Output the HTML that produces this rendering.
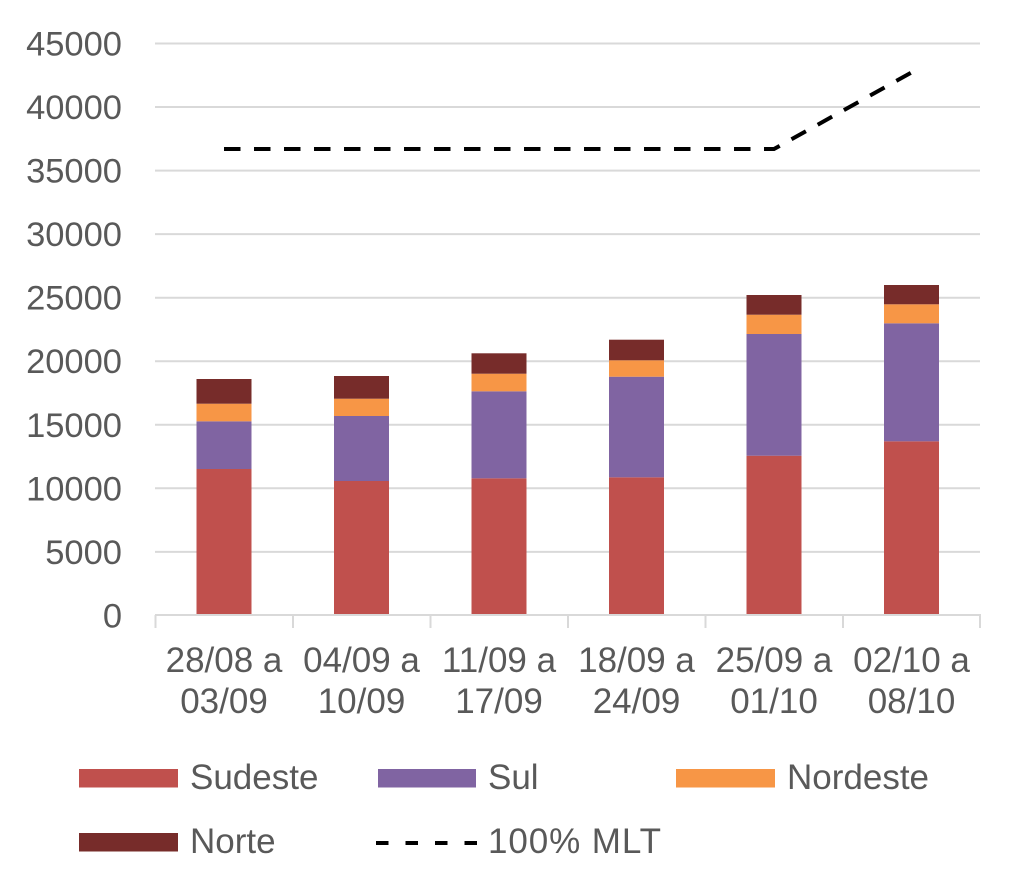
<!DOCTYPE html>
<html>
<head>
<meta charset="utf-8">
<style>
html,body{margin:0;padding:0;background:#fff;}
svg{display:block;}
text{font-family:"Liberation Sans",Arial,sans-serif;fill:#595959;}
</style>
</head>
<body>
<svg width="1024" height="892" viewBox="0 0 1024 892" xmlns="http://www.w3.org/2000/svg">
  <!-- gridlines -->
  <g stroke="#d9d9d9" stroke-width="2">
    <line x1="155" y1="43.5" x2="980" y2="43.5"/>
    <line x1="155" y1="107" x2="980" y2="107"/>
    <line x1="155" y1="170.6" x2="980" y2="170.6"/>
    <line x1="155" y1="234.1" x2="980" y2="234.1"/>
    <line x1="155" y1="297.7" x2="980" y2="297.7"/>
    <line x1="155" y1="361.2" x2="980" y2="361.2"/>
    <line x1="155" y1="424.8" x2="980" y2="424.8"/>
    <line x1="155" y1="488.3" x2="980" y2="488.3"/>
    <line x1="155" y1="551.9" x2="980" y2="551.9"/>
  </g>
  <!-- y labels -->
  <g font-size="34.5" text-anchor="end">
    <text x="122" y="55.5">45000</text>
    <text x="122" y="119">40000</text>
    <text x="122" y="182.6">35000</text>
    <text x="122" y="246.1">30000</text>
    <text x="122" y="309.7">25000</text>
    <text x="122" y="373.2">20000</text>
    <text x="122" y="436.8">15000</text>
    <text x="122" y="500.3">10000</text>
    <text x="122" y="563.9">5000</text>
    <text x="122" y="627.4">0</text>
  </g>
  <!-- bars -->
  <g>
    <rect x="196.5" y="469" width="55" height="146" fill="#c0504d"/>
    <rect x="196.5" y="421.3" width="55" height="47.7" fill="#8064a2"/>
    <rect x="196.5" y="403.7" width="55" height="17.6" fill="#f79646"/>
    <rect x="196.5" y="379" width="55" height="24.7" fill="#772c2a"/>

    <rect x="334" y="481" width="55" height="134" fill="#c0504d"/>
    <rect x="334" y="416" width="55" height="65" fill="#8064a2"/>
    <rect x="334" y="398.7" width="55" height="17.3" fill="#f79646"/>
    <rect x="334" y="376" width="55" height="22.7" fill="#772c2a"/>

    <rect x="471.5" y="478.3" width="55" height="136.7" fill="#c0504d"/>
    <rect x="471.5" y="391.3" width="55" height="87" fill="#8064a2"/>
    <rect x="471.5" y="373.7" width="55" height="17.6" fill="#f79646"/>
    <rect x="471.5" y="353.3" width="55" height="20.4" fill="#772c2a"/>

    <rect x="609" y="477.3" width="55" height="137.7" fill="#c0504d"/>
    <rect x="609" y="376.7" width="55" height="100.6" fill="#8064a2"/>
    <rect x="609" y="360.3" width="55" height="16.4" fill="#f79646"/>
    <rect x="609" y="339.7" width="55" height="20.6" fill="#772c2a"/>

    <rect x="746.5" y="455.7" width="55" height="159.3" fill="#c0504d"/>
    <rect x="746.5" y="334" width="55" height="121.7" fill="#8064a2"/>
    <rect x="746.5" y="314.7" width="55" height="19.3" fill="#f79646"/>
    <rect x="746.5" y="295" width="55" height="19.7" fill="#772c2a"/>

    <rect x="884" y="441.3" width="55" height="173.7" fill="#c0504d"/>
    <rect x="884" y="323.3" width="55" height="118" fill="#8064a2"/>
    <rect x="884" y="304.3" width="55" height="19" fill="#f79646"/>
    <rect x="884" y="285" width="55" height="19.3" fill="#772c2a"/>
  </g>
  <!-- x axis -->
  <g stroke="#d9d9d9" stroke-width="2">
    <line x1="155" y1="615" x2="981" y2="615"/>
    <line x1="155.5" y1="615" x2="155.5" y2="628"/>
    <line x1="293" y1="615" x2="293" y2="628"/>
    <line x1="430.5" y1="615" x2="430.5" y2="628"/>
    <line x1="568" y1="615" x2="568" y2="628"/>
    <line x1="705.5" y1="615" x2="705.5" y2="628"/>
    <line x1="843" y1="615" x2="843" y2="628"/>
    <line x1="980" y1="615" x2="980" y2="628"/>
  </g>
  <!-- MLT line -->
  <polyline points="224,149 774,149 911.5,72.5" fill="none" stroke="#000" stroke-width="4" stroke-dasharray="16.5 13.5"/>
  <!-- x labels -->
  <g font-size="35" text-anchor="middle">
    <text x="224" y="672">28/08 a</text>
    <text x="224" y="713">03/09</text>
    <text x="361.5" y="672">04/09 a</text>
    <text x="361.5" y="713">10/09</text>
    <text x="499" y="672">11/09 a</text>
    <text x="499" y="713">17/09</text>
    <text x="636.5" y="672">18/09 a</text>
    <text x="636.5" y="713">24/09</text>
    <text x="774" y="672">25/09 a</text>
    <text x="774" y="713">01/10</text>
    <text x="911.5" y="672">02/10 a</text>
    <text x="911.5" y="713">08/10</text>
  </g>
  <!-- legend -->
  <rect x="79" y="769" width="99" height="18.5" fill="#c0504d"/>
  <text x="190" y="789" font-size="35">Sudeste</text>
  <rect x="378" y="769" width="98" height="18.5" fill="#8064a2"/>
  <text x="488" y="789" font-size="35">Sul</text>
  <rect x="676" y="769" width="99" height="18.5" fill="#f79646"/>
  <text x="787" y="789" font-size="35">Nordeste</text>
  <rect x="79" y="833" width="99" height="18.5" fill="#772c2a"/>
  <text x="190" y="853" font-size="35">Norte</text>
  <line x1="376" y1="843" x2="477" y2="843" stroke="#000" stroke-width="4" stroke-dasharray="12.5 17"/>
  <text x="488" y="853" font-size="35" textLength="173" lengthAdjust="spacing">100% MLT</text>
</svg>
</body>
</html>
